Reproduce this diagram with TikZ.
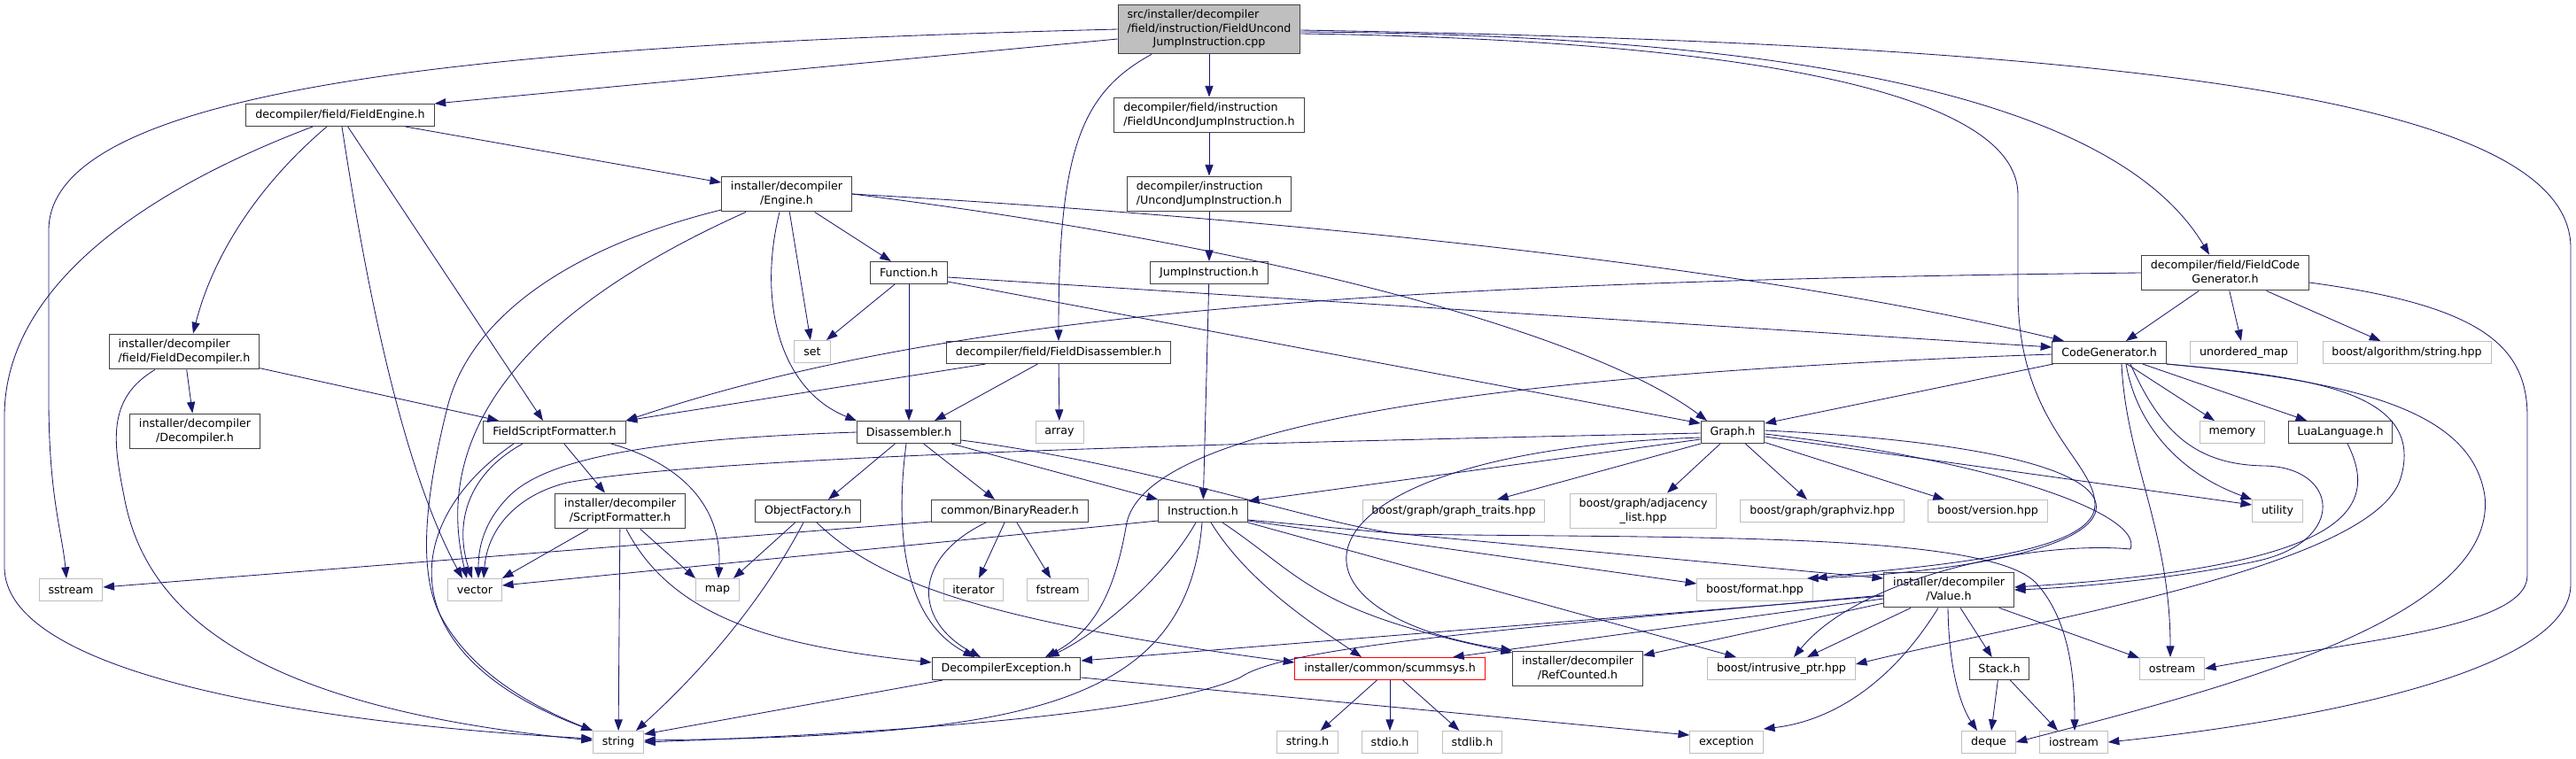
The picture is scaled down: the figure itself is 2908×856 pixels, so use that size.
\documentclass[tikz,border=0pt]{standalone}
\usepackage{fontspec}
\setmainfont{DejaVu Sans}
\usetikzlibrary{arrows.meta}
\definecolor{edgeblue}{HTML}{191970}
\definecolor{boxgrey}{HTML}{404040}
\definecolor{sysgrey}{HTML}{BFBFBF}
\newcommand\doxlabel[2]{\begin{tabular}{@{}l@{}}#1\\\multicolumn{1}{@{}c@{}}{#2}\end{tabular}}
\begin{document}
\begin{tikzpicture}[x=0.025cm,y=-0.025cm,
    hdr/.style={draw=boxgrey,fill=white,line width=0.7pt,inner xsep=7.4pt,inner ysep=3pt,
      minimum height=17.8pt,font=\fontsize{9}{11.2}\selectfont},
    sys/.style={hdr,draw=sysgrey},
    trunc/.style={hdr,draw=red},
    src/.style={hdr,fill=sysgrey},
    dep/.style={edgeblue,line width=0.6pt,-{Triangle[length=9pt,width=6.5pt]}}]
    \useasboundingbox (0,0) rectangle (2908,856);

    % headers
    \node[src] (root) at (1365,33) {\doxlabel{src/installer/decompiler\\/field/instruction/FieldUncond}{JumpInstruction.cpp}};
    \node[hdr] (fengine) at (384,130) {decompiler/field/FieldEngine.h};
    \node[hdr] (fujump) at (1365,130) {\doxlabel{decompiler/field/instruction}{/FieldUncondJumpInstruction.h}};
    \node[hdr] (engine) at (888,219) {\doxlabel{installer/decompiler}{/Engine.h}};
    \node[hdr] (ujump) at (1365,219) {\doxlabel{decompiler/instruction}{/UncondJumpInstruction.h}};
    \node[hdr] (function) at (1026,308) {Function.h};
    \node[hdr] (jump) at (1365,308) {JumpInstruction.h};
    \node[hdr] (fcodegen) at (2512,308) {\doxlabel{decompiler/field/FieldCode}{Generator.h}};
    \node[hdr] (fdecomp) at (208,397) {\doxlabel{installer/decompiler}{/field/FieldDecompiler.h}};
    \node[sys] (set) at (917,397) {set};
    \node[hdr] (fdisasm) at (1195,398) {decompiler/field/FieldDisassembler.h};
    \node[hdr] (codegen) at (2381,398) {CodeGenerator.h};
    \node[sys] (umap) at (2533,398) {unordered\_map};
    \node[sys] (balgo) at (2717,398) {boost/algorithm/string.hpp};
    \node[hdr] (decomp) at (220,487) {\doxlabel{installer/decompiler}{/Decompiler.h}};
    \node[hdr] (fsfmt) at (626,488) {FieldScriptFormatter.h};
    \node[hdr] (disasm) at (1026,488) {Disassembler.h};
    \node[sys] (array) at (1196,488) {array};
    \node[hdr] (graph) at (1956,488) {Graph.h};
    \node[sys] (memory) at (2520,488) {memory};
    \node[hdr] (lua) at (2642,488) {LuaLanguage.h};
    \node[hdr] (sfmt) at (700,577) {\doxlabel{installer/decompiler}{/ScriptFormatter.h}};
    \node[hdr] (objfac) at (912,577) {ObjectFactory.h};
    \node[hdr] (breader) at (1140,577) {common/BinaryReader.h};
    \node[hdr] (instr) at (1358,577) {Instruction.h};
    \node[sys] (gtraits) at (1641,577) {boost/graph/graph\_traits.hpp};
    \node[sys] (adjlist) at (1855,577) {\doxlabel{boost/graph/adjacency}{\_list.hpp}};
    \node[sys] (graphviz) at (2057,577) {boost/graph/graphviz.hpp};
    \node[sys] (version) at (2244,577) {boost/version.hpp};
    \node[sys] (utility) at (2571,577) {utility};
    \node[sys] (sstream) at (80,666) {sstream};
    \node[sys] (vector) at (536,666) {vector};
    \node[sys] (map) at (810,666) {map};
    \node[sys] (iterator) at (1099,666) {iterator};
    \node[sys] (fstream) at (1194,666) {fstream};
    \node[sys] (bformat) at (1981,666) {boost/format.hpp};
    \node[hdr] (value) at (2200,666) {\doxlabel{installer/decompiler}{/Value.h}};
    \node[hdr] (decexc) at (1136,755) {DecompilerException.h};
    \node[trunc] (scumm) at (1569,755) {installer/common/scummsys.h};
    \node[hdr] (refcnt) at (1781,755) {\doxlabel{installer/decompiler}{/RefCounted.h}};
    \node[sys] (iptr) at (2011,755) {boost/intrusive\_ptr.hpp};
    \node[hdr] (stack) at (2257,755) {Stack.h};
    \node[sys] (ostream) at (2452,755) {ostream};
    \node[sys] (string) at (698,838) {string};
    \node[sys] (stringh) at (1476,838) {string.h};
    \node[sys] (stdio) at (1569,838) {stdio.h};
    \node[sys] (stdlib) at (1662,838) {stdlib.h};
    \node[sys] (exception) at (1949,838) {exception};
    \node[sys] (deque) at (2245,838) {deque};
    \node[sys] (iostream) at (2341,838) {iostream};

    % includes of the source file
    \draw[dep] (root.west |- 0,44) -- (fengine.north east);
    \draw[dep] (root.west) .. controls (600,50) and (55,90) .. (55,260) -- (55,450) .. controls (55,560) and (70,600) .. (sstream.north -| 75,0);
    \draw[dep] (root) -- (fujump);
    \draw[dep] (root.south -| 1300,0) .. controls (1220,105) and (1195,170) .. (fdisasm.north);
    \draw[dep] (root.east |- 0,36) .. controls (2100,40) and (2400,130) .. (fcodegen.north -| 2494,0);
    \draw[dep] (root.east |- 0,38) .. controls (1950,45) and (2278,100) .. (2278,220) -- (2278,330) .. controls (2278,480) and (2365,520) .. (2365,570) .. controls (2365,630) and (2150,640) .. (bformat.north east -| 2050,0);
    \draw[dep] (root.east |- 0,34) .. controls (2400,50) and (2902,110) .. (2902,280) -- (2902,660) .. controls (2902,760) and (2600,815) .. (iostream.east);

    % FieldEngine.h
    \draw[dep] (fengine) -- (engine);
    \draw[dep] (fengine.south -| 369,0) .. controls (290,210) and (240,290) .. (fdecomp.north -| 218,0);
    \draw[dep] (fengine.south -| 353,0) .. controls (150,220) and (5,330) .. (5,470) -- (5,640) .. controls (5,770) and (400,820) .. (string.west |- 0,834);
    \draw[dep] (fengine.south -| 386,0) .. controls (410,300) and (450,520) .. (vector.north -| 522,0);
    \draw[dep] (fengine) -- (fsfmt.north -| 613,0);

    % Engine.h
    \draw[dep] (engine) -- (function);
    \draw[dep] (engine) -- (set);
    \draw[dep] (engine.west |- 0,237) .. controls (640,280) and (530,360) .. (505,460) .. controls (480,560) and (470,650) .. (500,700) .. controls (540,770) and (620,805) .. (string.north west);
    \draw[dep] (engine.south -| 842,0) .. controls (640,330) and (480,460) .. (vector.north -| 527,0);
    \draw[dep] (engine.south -| 880,0) .. controls (855,340) and (880,440) .. (disasm.north west);
    \draw[dep] (engine.east) .. controls (1500,250) and (2000,305) .. (codegen.north west -| 2330,0);
    \draw[dep] (engine.east) .. controls (1450,280) and (1800,380) .. (graph.north west -| 1927,0);

    % Function.h and the jump chain
    \draw[dep] (function) -- (set);
    \draw[dep] (function) -- (disasm);
    \draw[dep] (function.east |- 0,313) -- (codegen.west |- 0,392);
    \draw[dep] (function.east |- 0,318) -- (graph.west |- 0,478);
    \draw[dep] (fujump) -- (ujump);
    \draw[dep] (ujump) -- (jump);
    \draw[dep] (jump) -- (instr);

    % FieldCodeGenerator.h
    \draw[dep] (fcodegen) -- (codegen);
    \draw[dep] (fcodegen) -- (umap);
    \draw[dep] (fcodegen) -- (balgo);
    \draw[dep] (fcodegen.west) .. controls (1500,318) and (1050,360) .. (fsfmt.north east);
    \draw[dep] (fcodegen.east |- 0,319) .. controls (2800,345) and (2853,390) .. (2853,470) -- (2853,650) .. controls (2853,710) and (2650,725) .. (ostream.east);

    % FieldDecompiler.h, FieldDisassembler.h
    \draw[dep] (fdecomp) -- (decomp);
    \draw[dep] (fdecomp) -- (fsfmt.north west -| 563,0);
    \draw[dep] (fdecomp.south -| 175,0) .. controls (120,450) and (128,500) .. (140,560) .. controls (165,700) and (300,800) .. (string.west |- 0,836);
    \draw[dep] (fdisasm) -- (disasm.north -| 1055,0);
    \draw[dep] (fdisasm) -- (array);
    \draw[dep] (fdisasm) -- (fsfmt.north east);

    % CodeGenerator.h
    \draw[dep] (codegen) -- (graph.east |- 0,478);
    \draw[dep] (codegen) -- (memory);
    \draw[dep] (codegen) -- (lua);
    \draw[dep] (codegen.south -| 2400,0) .. controls (2410,470) and (2450,530) .. (utility.north west);
    \draw[dep] (codegen.south -| 2405,0) .. controls (2440,490) and (2480,525) .. (2557,526) .. controls (2640,528) and (2650,610) .. (2550,633) .. controls (2450,655) and (2330,664) .. (value.east);
    \draw[dep] (codegen.west |- 0,400) .. controls (1750,420) and (1300,470) .. (1272,590) .. controls (1260,660) and (1240,710) .. (decexc.north east -| 1180,0);
    \draw[dep] (codegen.south -| 2395,0) .. controls (2400,520) and (2450,600) .. (ostream.north -| 2450,0);
    \draw[dep] (codegen.south east) .. controls (2600,425) and (2740,440) .. (2710,540) .. controls (2680,640) and (2300,700) .. (iptr.east |- 0,750);
    \draw[dep] (codegen.south east) .. controls (2650,430) and (2790,460) .. (2805,560) .. controls (2820,700) and (2500,780) .. (deque.east);

    % Graph.h
    \draw[dep] (graph.west |- 0,496) -- (instr.east |- 0,566);
    \draw[dep] (graph.west |- 0,489) .. controls (1400,500) and (800,515) .. (640,545) .. controls (580,560) and (550,600) .. (vector.north -| 546,0);
    \draw[dep] (graph.south west) -- (gtraits.north -| 1690,0);
    \draw[dep] (graph) -- (adjlist.north -| 1882,0);
    \draw[dep] (graph) -- (graphviz.north -| 2040,0);
    \draw[dep] (graph) -- (version.north -| 2195,0);
    \draw[dep] (graph.east |- 0,493) -- (utility.west |- 0,570);
    \draw[dep] (graph.west |- 0,494) .. controls (1450,510) and (1420,690) .. (refcnt.north west);
    \draw[dep] (graph.east |- 0,486) .. controls (2280,500) and (2380,540) .. (2365,580) .. controls (2345,630) and (2150,650) .. (bformat.north east -| 2040,0);
    \draw[dep] (graph.east |- 0,490) .. controls (2250,520) and (2420,580) .. (2405,620) .. controls (2300,610) and (2100,650) .. (iptr.north -| 2025,0);

    % Disassembler.h
    \draw[dep] (disasm) -- (objfac.north -| 935,0);
    \draw[dep] (disasm) -- (breader.north -| 1123,0);
    \draw[dep] (disasm) -- (instr.north west);
    \draw[dep] (disasm.south -| 1023,0) .. controls (1010,600) and (1020,700) .. (decexc.north -| 1100,0);
    \draw[dep] (disasm.west) .. controls (750,495) and (620,515) .. (575,560) .. controls (545,590) and (540,620) .. (vector.north -| 540,0);
    \draw[dep] (disasm.east |- 0,497) .. controls (1300,525) and (1480,590) .. (1580,603) .. controls (1900,608) and (2250,600) .. (2300,660) .. controls (2335,700) and (2342,760) .. (iostream.north -| 2342,0);

    % BinaryReader.h, ObjectFactory.h
    \draw[dep] (breader) -- (iterator);
    \draw[dep] (breader) -- (fstream);
    \draw[dep] (breader.south -| 1113,0) .. controls (1030,630) and (1030,700) .. (decexc.north -| 1107,0);
    \draw[dep] (breader.west |- 0,589) -- (sstream.east |- 0,663);
    \draw[dep] (objfac) -- (map.north east -| 828,0);
    \draw[dep] (objfac.south -| 907,0) .. controls (860,680) and (790,760) .. (string.north east -| 718,0);
    \draw[dep] (objfac.south -| 922,0) .. controls (990,655) and (1100,700) .. (scumm.west |- 0,748);

    % ScriptFormatter.h, FieldScriptFormatter.h
    \draw[dep] (sfmt) -- (vector.north east);
    \draw[dep] (sfmt) -- (map.north west);
    \draw[dep] (sfmt) -- (string);
    \draw[dep] (sfmt.south -| 707,0) .. controls (760,700) and (880,730) .. (decexc.west |- 0,748);
    \draw[dep] (fsfmt) -- (sfmt.north -| 683,0);
    \draw[dep] (fsfmt.south -| 590,0) .. controls (520,540) and (515,600) .. (vector.north -| 533,0);
    \draw[dep] (fsfmt.south -| 580,0) .. controls (450,590) and (440,740) .. (string.north west);
    \draw[dep] (fsfmt.south -| 690,0) .. controls (790,530) and (815,590) .. (map.north -| 811,0);

    % Instruction.h
    \draw[dep] (instr.west |- 0,588) -- (vector.east |- 0,661);
    \draw[dep] (instr.south -| 1357,0) .. controls (1340,800) and (1150,830) .. (string.east |- 0,836);
    \draw[dep] (instr.south -| 1350,0) .. controls (1310,660) and (1230,720) .. (decexc.north east -| 1183,0);
    \draw[dep] (instr.south -| 1367,0) .. controls (1410,660) and (1490,710) .. (scumm.north -| 1537,0);
    \draw[dep] (instr.south -| 1380,0) .. controls (1470,650) and (1480,690) .. (refcnt.north west |- 0,737);
    \draw[dep] (instr.south east) -- (iptr.north west -| 1960,0);
    \draw[dep] (instr.east |- 0,588) -- (bformat.west |- 0,659);
    \draw[dep] (instr.east |- 0,587) -- (value.west |- 0,653);

    % Value.h
    \draw[dep] (value) -- (stack);
    \draw[dep] (value.south -| 2199,0) .. controls (2200,760) and (2215,800) .. (deque.north -| 2232,0);
    \draw[dep] (value) -- (iptr.north -| 2040,0);
    \draw[dep] (value.south -| 2188,0) .. controls (2130,780) and (2060,815) .. (exception.east |- 0,823);
    \draw[dep] (value) -- (ostream.north west |- 0,743);
    \draw[dep] (value.west |- 0,681) -- (refcnt.east |- 0,740);
    \draw[dep] (value.west |- 0,676) -- (scumm.north east -| 1640,0);
    \draw[dep] (value.west |- 0,673) -- (decexc.east |- 0,746);
    \draw[dep] (value.west |- 0,672) .. controls (1700,710) and (1450,730) .. (1400,765) .. controls (1300,810) and (950,830) .. (string.east |- 0,838);
    \draw[dep] (lua.south -| 2650,0) .. controls (2690,580) and (2640,640) .. (value.east |- 0,663);

    % the rest
    \draw[dep] (decexc) -- (string.east |- 0,829);
    \draw[dep] (decexc.east |- 0,765) -- (exception.west |- 0,830);
    \draw[dep] (stack) -- (deque.north -| 2248,0);
    \draw[dep] (stack) -- (iostream.north -| 2323,0);
    \draw[dep] (scumm) -- (stringh);
    \draw[dep] (scumm) -- (stdio);
    \draw[dep] (scumm) -- (stdlib);
\end{tikzpicture}
\end{document}
